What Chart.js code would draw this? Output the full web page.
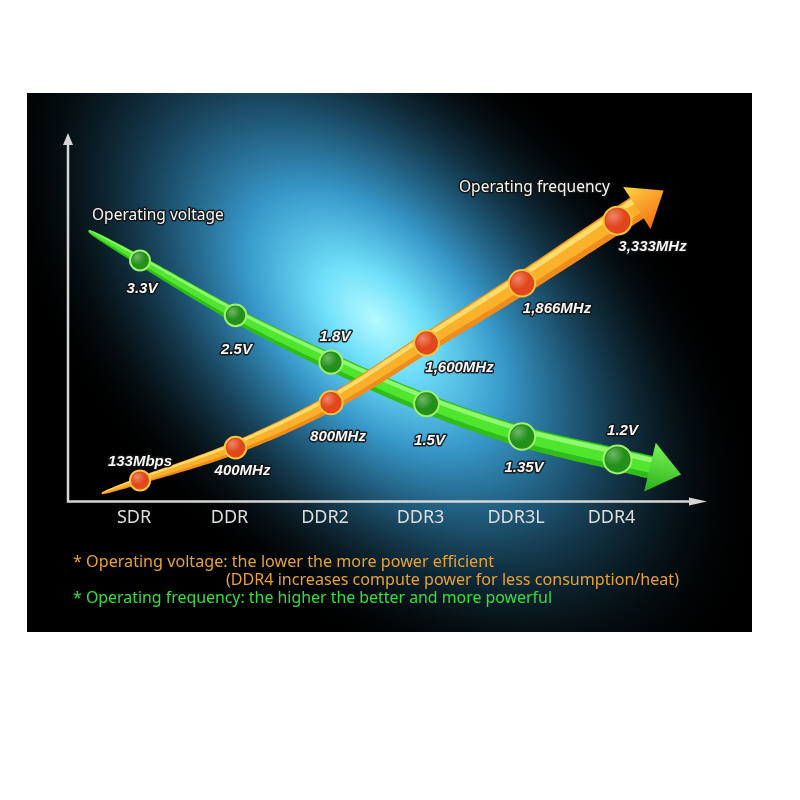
<!DOCTYPE html>
<html>
<head>
<meta charset="utf-8">
<script src="https://cdn.jsdelivr.net/npm/chart.js@4.4.1/dist/chart.umd.min.js"></script>
<style>
  html, body { margin: 0; padding: 0; background: #fff; }
</style>
</head>
<body>
<canvas id="ddrChart" width="800" height="800"></canvas>
<script>
/*********************************************/
/*        DDR voltage / frequency chart      */
/*********************************************/

// memory generations along the x axis
const generations = ["SDR", "DDR", "DDR2", "DDR3", "DDR3L", "DDR4"];

// curve heights (axis has no scale: 0 = x axis, 100 = top of y arrow)
const voltageLevel = [65.4, 50.5, 37.8, 26.5, 17.6, 11.4];
const frequencyLevel = [5.7, 14.6, 26.8, 43.0, 59.2, 76.2];

// values printed beside each point
const voltageText = ["3.3V", "2.5V", "1.8V", "1.5V", "1.35V", "1.2V"];
const frequencyText = ["133Mbps", "400MHz", "800MHz", "1,600MHz", "1,866MHz", "3,333MHz"];

const seriesNames = ["Operating voltage", "Operating frequency"];

const footnotes = [
  "* Operating voltage: the lower the more power efficient",
  "(DDR4 increases compute power for less consumption/heat)",
  "* Operating frequency: the higher the better and more powerful"
];

// label placement relative to its point (layout only)
const voltageLabelOffset = [[2, 28], [1, 35], [4, -25], [3, 37], [2, 31], [5, -29]];
const frequencyLabelOffset = [[0, -19], [7, 23], [7, 34], [33, 25], [35, 26], [35, 26]];

// ribbon look for each series
const ribbonStyle = [
  { startExt: 0.54, endExt: 0.36, w0: 1, w1: 23, expo: 0.4,
    base: "#30bc1c", mid: "#50e52e", shine: "#90f86e",
    headTop: "#78f454", headBottom: "#2aae18" },
  { startExt: 0.40, endExt: 0.22, w0: 1, w1: 25, expo: 0.5,
    base: "#f08c1c", mid: "#fbb12c", shine: "#ffdc6a",
    headTop: "#ffd444", headBottom: "#f27010" }
];

function spline(pts, steps) {
  const out = [];
  for (let i = 0; i < pts.length - 1; i++) {
    const p0 = pts[Math.max(i - 1, 0)], p1 = pts[i], p2 = pts[i + 1];
    const p3 = pts[Math.min(i + 2, pts.length - 1)];
    for (let s = 0; s < steps; s++) {
      const t = s / steps, t2 = t * t, t3 = t2 * t;
      const f = (a, b, c, d) => 0.5 * (2 * b + (-a + c) * t + (2 * a - 5 * b + 4 * c - d) * t2 + (-a + 3 * b - 3 * c + d) * t3);
      out.push({ x: f(p0.x, p1.x, p2.x, p3.x), y: f(p0.y, p1.y, p2.y, p3.y) });
    }
  }
  out.push(pts[pts.length - 1]);
  return out;
}

// fill the part of the ribbon between normal offsets [lo, hi] (fractions of the width)
function drawBand(ctx, line, widths, lo, hi, fill) {
  const left = [], right = [];
  line.forEach((p, i) => {
    const a = line[Math.max(i - 1, 0)], b = line[Math.min(i + 1, line.length - 1)];
    let dx = b.x - a.x, dy = b.y - a.y;
    const m = Math.hypot(dx, dy) || 1;
    dx /= m; dy /= m;
    const nx = dy, ny = -dx, w = widths[i];
    left.push({ x: p.x + nx * w * hi, y: p.y + ny * w * hi });
    right.push({ x: p.x + nx * w * lo, y: p.y + ny * w * lo });
  });
  ctx.beginPath();
  left.forEach((p, i) => (i ? ctx.lineTo(p.x, p.y) : ctx.moveTo(p.x, p.y)));
  right.reverse().forEach((p) => ctx.lineTo(p.x, p.y));
  ctx.closePath();
  ctx.fillStyle = fill;
  ctx.fill();
}

const backdrop = {
  id: "backdrop",
  beforeDraw(chart) {
    const ctx = chart.ctx;
    ctx.save();
    ctx.fillStyle = "#fff";
    ctx.fillRect(0, 0, 800, 800);
    ctx.fillStyle = "#000";
    ctx.fillRect(27, 93, 725, 539);
    ctx.beginPath();
    ctx.rect(27, 93, 725, 539);
    ctx.clip();
    ctx.translate(375, 320);
    ctx.rotate(Math.PI / 4);
    ctx.scale(1, 0.58);
    const g = ctx.createRadialGradient(0, 0, 0, 0, 0, 470);
    g.addColorStop(0, "rgba(180,250,255,1)");
    g.addColorStop(0.14, "rgba(112,224,250,1)");
    g.addColorStop(0.34, "rgba(58,160,212,0.95)");
    g.addColorStop(0.54, "rgba(34,96,130,0.85)");
    g.addColorStop(0.75, "rgba(16,44,58,0.6)");
    g.addColorStop(1, "rgba(0,0,0,0)");
    ctx.fillStyle = g;
    ctx.fillRect(-470, -470, 940, 940);
    ctx.restore();
  }
};

const ribbons = {
  id: "ribbons",
  beforeDatasetsDraw(chart) {
    const ctx = chart.ctx, area = chart.chartArea;
    ctx.save();
    // axes with arrows
    ctx.strokeStyle = "#d6d6d6";
    ctx.fillStyle = "#d6d6d6";
    ctx.lineWidth = 2.5;
    ctx.beginPath();
    ctx.moveTo(area.left, area.top + 8);
    ctx.lineTo(area.left, area.bottom);
    ctx.lineTo(area.right - 12, area.bottom);
    ctx.stroke();
    ctx.beginPath();
    ctx.moveTo(area.left, area.top);
    ctx.lineTo(area.left - 5, area.top + 12);
    ctx.lineTo(area.left + 5, area.top + 12);
    ctx.fill();
    ctx.beginPath();
    ctx.moveTo(area.right, area.bottom);
    ctx.lineTo(area.right - 18, area.bottom - 4);
    ctx.lineTo(area.right - 18, area.bottom + 4);
    ctx.fill();

    chart.data.datasets.forEach((ds, di) => {
      const st = ribbonStyle[di];
      const pts = chart.getDatasetMeta(di).data.map((p) => ({ x: p.x, y: p.y }));
      const n = pts.length;
      const start = { x: pts[0].x - st.startExt * (pts[1].x - pts[0].x), y: pts[0].y - st.startExt * (pts[1].y - pts[0].y) };
      const end = { x: pts[n - 1].x + st.endExt * (pts[n - 1].x - pts[n - 2].x), y: pts[n - 1].y + st.endExt * (pts[n - 1].y - pts[n - 2].y) };
      const line = spline([start, ...pts, end], 24);
      const len = [0];
      for (let i = 1; i < line.length; i++) len.push(len[i - 1] + Math.hypot(line[i].x - line[i - 1].x, line[i].y - line[i - 1].y));
      const total = len[len.length - 1];
      const widths = len.map((l) => st.w0 + (st.w1 - st.w0) * Math.pow(l / total, st.expo));

      drawBand(ctx, line, widths, -0.5, 0.5, st.base);
      drawBand(ctx, line, widths, -0.25, 0.45, st.mid);
      drawBand(ctx, line, widths, 0.2, 0.42, st.shine);

      // arrow head
      const a = line[line.length - 3], e = line[line.length - 1];
      let dx = e.x - a.x, dy = e.y - a.y;
      const m = Math.hypot(dx, dy);
      dx /= m; dy /= m;
      const nx = dy, ny = -dx, hw = 25, hl = 30;
      const g = ctx.createLinearGradient(e.x + nx * hw, e.y + ny * hw, e.x - nx * hw, e.y - ny * hw);
      g.addColorStop(0, st.headTop);
      g.addColorStop(1, st.headBottom);
      ctx.fillStyle = g;
      ctx.beginPath();
      ctx.moveTo(e.x - dx * 2 + nx * hw, e.y - dy * 2 + ny * hw);
      ctx.lineTo(e.x + dx * hl, e.y + dy * hl);
      ctx.lineTo(e.x - dx * 2 - nx * hw, e.y - dy * 2 - ny * hw);
      ctx.closePath();
      ctx.fill();
    });
    ctx.restore();
  }
};

function outlinedText(ctx, text, x, y) {
  ctx.lineJoin = "round";
  ctx.lineWidth = 3;
  ctx.strokeStyle = "rgba(20,20,20,0.9)";
  ctx.strokeText(text, x, y);
  ctx.fillStyle = "#f6f6f6";
  ctx.fillText(text, x, y);
}

const ballRadius = (i) => 10 + i * 0.8;

const annotations = {
  id: "annotations",
  afterDatasetsDraw(chart) {
    const ctx = chart.ctx;
    ctx.save();
    // glossy spot on every ball
    chart.data.datasets.forEach((ds, di) => {
      chart.getDatasetMeta(di).data.forEach((p, i) => {
        const r = ballRadius(i);
        const g = ctx.createRadialGradient(p.x - r * 0.3, p.y - r * 0.35, 0, p.x - r * 0.3, p.y - r * 0.35, r * 0.8);
        g.addColorStop(0, "rgba(255,255,255,0.35)");
        g.addColorStop(1, "rgba(255,255,255,0)");
        ctx.fillStyle = g;
        ctx.beginPath();
        ctx.arc(p.x, p.y, r - 2, 0, Math.PI * 2);
        ctx.fill();
      });
    });

    // value labels
    ctx.font = "italic bold 15px 'Liberation Sans'";
    ctx.textAlign = "center";
    ctx.textBaseline = "middle";
    const texts = [voltageText, frequencyText];
    const offsets = [voltageLabelOffset, frequencyLabelOffset];
    chart.data.datasets.forEach((ds, di) => {
      chart.getDatasetMeta(di).data.forEach((p, i) => {
        outlinedText(ctx, texts[di][i], p.x + offsets[di][i][0], p.y + offsets[di][i][1]);
      });
    });

    // series names
    ctx.font = "15.5px 'Noto Sans'";
    ctx.textAlign = "left";
    outlinedText(ctx, seriesNames[0], 92, 216);
    outlinedText(ctx, seriesNames[1], 459, 188);
    ctx.restore();
  },
  afterDraw(chart) {
    const ctx = chart.ctx;
    ctx.save();
    ctx.font = "17px 'Noto Sans'";
    ctx.textAlign = "left";
    ctx.textBaseline = "middle";
    ctx.fillStyle = "#e8a234";
    ctx.fillText(footnotes[0], 73, 562, 421);
    ctx.fillText(footnotes[1], 226, 580, 453);
    ctx.fillStyle = "#33e03a";
    ctx.fillText(footnotes[2], 73, 598, 479);
    ctx.restore();
  }
};

const data = {
  datasets: [
    {
      label: seriesNames[0],
      data: voltageLevel.map((v, i) => ({ x: i, y: v })),
      showLine: false,
      pointRadius: (c) => ballRadius(c.dataIndex),
      pointBackgroundColor: "#23901a",
      pointBorderColor: "#a0f070",
      pointBorderWidth: 2
    },
    {
      label: seriesNames[1],
      data: frequencyLevel.map((v, i) => ({ x: i, y: v })),
      showLine: false,
      pointRadius: (c) => ballRadius(c.dataIndex),
      pointBackgroundColor: "#e2461c",
      pointBorderColor: "#f8c43a",
      pointBorderWidth: 2
    }
  ]
}; // end data

const config = {
  type: "scatter",
  data: data,
  options: {
    responsive: false,
    animation: false,
    events: [],
    clip: false,
    layout: { padding: { left: 68, right: 93, top: 133, bottom: 265 } },
    plugins: {
      legend: { display: false },
      tooltip: { enabled: false }
    },
    scales: {
      x: {
        type: "linear",
        min: -0.754,
        max: 5.937,
        afterBuildTicks: (axis) => {
          axis.ticks = generations.map((g, i) => ({ value: i }));
        },
        grid: { display: false, drawTicks: false },
        border: { display: false },
        ticks: {
          callback: (v) => generations[v],
          color: "#dedede",
          font: { family: "Noto Sans", size: 18 },
          padding: 6,
          labelOffset: -6,
          maxRotation: 0,
          autoSkip: false
        }
      },
      y: { display: false, min: 0, max: 100 }
    }
  },
  plugins: [backdrop, ribbons, annotations]
};

const ddrChart = new Chart(document.getElementById("ddrChart"), config);
</script>
</body>
</html>
